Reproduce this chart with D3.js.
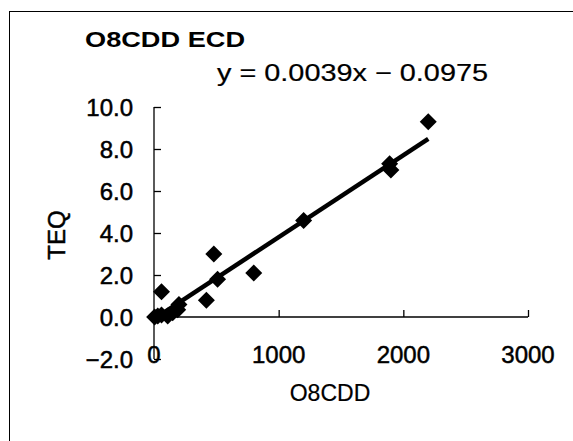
<!DOCTYPE html>
<html>
<head>
<meta charset="utf-8">
<script src="https://cdn.jsdelivr.net/npm/d3@7"></script>
<style>
  html, body { margin: 0; padding: 0; background: #fff; }
  svg { display: block; }
  text { font-family: "Liberation Sans", Arial, sans-serif; fill: #000; }
</style>
</head>
<body>
<svg id="chart" width="573" height="441"></svg>
<script>
// O8CDD concentration vs TEQ (ECD measurements)
const o8cdd = [2200, 1890, 1900, 1200, 480, 510, 800, 420, 60, 5, 30, 60, 110, 150, 190, 200];
const teq   = [9.3, 7.3, 7.0, 4.6, 3.0, 1.8, 2.1, 0.8, 1.2, 0.0, 0.05, 0.1, 0.05, 0.2, 0.35, 0.6];

// Linear fit reported on the chart
const slope = 0.0039;
const intercept = -0.0975;

const xTicks = [0, 1000, 2000, 3000];
const yTicks = [-2, 0, 2, 4, 6, 8, 10];

const titleText = "O8CDD ECD";
const equationText = "y = 0.0039x \u2212 0.0975";
const xTitle = "O8CDD";
const yTitle = "TEQ";

const svg = d3.select("#chart");

// outer chart frame (continues past the visible area)
svg.append("rect")
  .attr("x", 9.5).attr("y", 11.5)
  .attr("width", 700).attr("height", 600)
  .attr("fill", "none").attr("stroke", "#000").attr("stroke-width", 1);

const x = d3.scaleLinear().domain([0, 3000]).range([154, 528]);
const y = d3.scaleLinear().domain([-2, 10]).range([359, 107]);

// y axis: vertical line at x = 0, ticks pointing inward
const yAxis = d3.axisRight(y).tickValues(yTicks).tickSize(7).tickFormat("");
const gy = svg.append("g").attr("transform", `translate(${x(0)},0)`).call(yAxis);
gy.select(".domain").attr("d", `M0,${y(10)}V${y(-2)}`);
gy.selectAll("line, path").attr("stroke", "#000").attr("stroke-width", 1.3);

// x axis crosses at y = 0, ticks pointing upward
const xAxis = d3.axisTop(x).tickValues(xTicks.filter(d => d > 0)).tickSize(7).tickFormat("");
const gx = svg.append("g").attr("transform", `translate(0,${y(0)})`).call(xAxis);
gx.select(".domain").attr("d", `M${x(0)},0H${x(3000)}`);
gx.selectAll("line, path").attr("stroke", "#000").attr("stroke-width", 1.3);

// tick labels
svg.append("g").selectAll("text").data(yTicks).join("text")
  .attr("x", 133).attr("y", d => y(d) + 9)
  .attr("text-anchor", "end")
  .attr("font-size", 24)
  .attr("stroke", "#000").attr("stroke-width", 0.5)
  .text(d => (d < 0 ? "\u2212" : "") + Math.abs(d).toFixed(1));

svg.append("g").selectAll("text").data(xTicks).join("text")
  .attr("x", d => x(d)).attr("y", 363)
  .attr("text-anchor", "middle")
  .attr("font-size", 24)
  .attr("stroke", "#000").attr("stroke-width", 0.5)
  .text(d => d);

// axis titles
svg.append("text")
  .attr("x", 330).attr("y", 401)
  .attr("text-anchor", "middle").attr("font-size", 23)
  .attr("stroke", "#000").attr("stroke-width", 0.2)
  .text(xTitle);

svg.append("text")
  .attr("transform", "translate(65,235) rotate(-90)")
  .attr("text-anchor", "middle").attr("font-size", 24)
  .attr("stroke", "#000").attr("stroke-width", 0.5)
  .text(yTitle);

// chart title and fit equation
svg.append("text")
  .attr("x", 85).attr("y", 47)
  .attr("font-size", 22).attr("font-weight", "bold")
  .attr("textLength", 160).attr("lengthAdjust", "spacingAndGlyphs")
  .text(titleText);

svg.append("text")
  .attr("x", 217).attr("y", 81)
  .attr("font-size", 24)
  .attr("stroke", "#000").attr("stroke-width", 0.2)
  .attr("textLength", 271).attr("lengthAdjust", "spacingAndGlyphs")
  .text(equationText);

// regression line across the data range
const xMin = d3.min(o8cdd), xMax = d3.max(o8cdd);
svg.append("line")
  .attr("x1", x(xMin)).attr("y1", y(slope * xMin + intercept))
  .attr("x2", x(xMax)).attr("y2", y(slope * xMax + intercept))
  .attr("stroke", "#000").attr("stroke-width", 4.5);

// diamond markers
const r = 8.5;
const diamond = `M0,${-r}L${r},0L0,${r}L${-r},0Z`;
svg.append("g").selectAll("path").data(o8cdd.map((v, i) => [v, teq[i]])).join("path")
  .attr("transform", d => `translate(${x(d[0])},${y(d[1])})`)
  .attr("d", diamond)
  .attr("fill", "#000");
</script>
</body>
</html>
